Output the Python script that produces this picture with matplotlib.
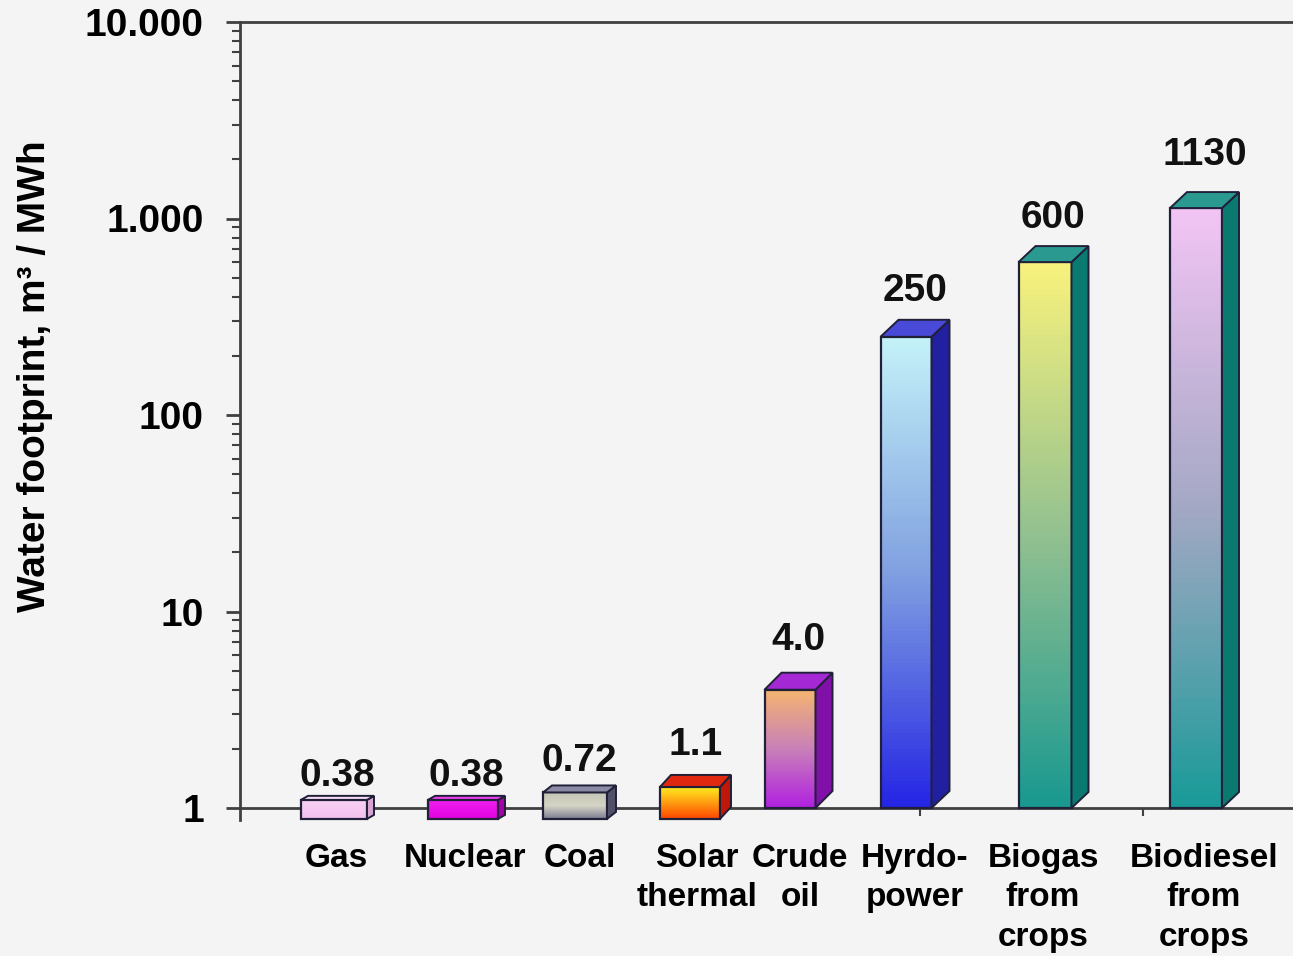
import matplotlib.pyplot as plt
import numpy as np
from matplotlib.colors import LinearSegmentedColormap
from matplotlib.patches import Polygon, Rectangle

plt.rcParams["font.family"] = ["Liberation Sans", "DejaVu Sans"]
plt.rcParams["font.weight"] = "bold"

sources = ["Gas", "Nuclear", "Coal", "Solar\nthermal", "Crude\noil",
           "Hyrdo-\npower", "Biogas\nfrom\ncrops", "Biodiesel\nfrom\ncrops"]
footprint = [0.38, 0.38, 0.72, 1.1, 4.0, 250, 600, 1130]
value_text = ["0.38", "0.38", "0.72", "1.1", "4.0", "250", "600", "1130"]
# the small ones are only drawn as little boxes sitting on the axis line
stub_top = [1.1, 1.1, 1.2, 1.28]
stub_base = 0.88
drawn_top = stub_top + footprint[4:]
drawn_base = [stub_base] * 4 + [1] * 4
y_ticks = [1, 10, 100, 1000, 10000]
y_tick_text = ["1", "10", "100", "1.000", "10.000"]

# layout (x in units of 100 px from the left spine)
x_pos = [0.94, 2.23, 3.35, 4.50, 5.50, 6.66, 8.05, 9.56]
widths = [0.66, 0.70, 0.64, 0.60, 0.51, 0.51, 0.53, 0.52]
label_x = [0.96, 2.25, 3.40, 4.57, 5.60, 6.75, 8.03, 9.64]
depth_x = [7, 7, 9, 11, 17, 18, 17, 17]   # pixels
depth_y = [4, 4, 7, 12, 17, 17, 16, 16]
label_gap = [2, 2, 6, 12, 15, 11, 10, 19]

# front gradient (top -> bottom), side colour, top colour
front = [
    ["#f8d0f4", "#f2c0ee"],
    ["#f020f0", "#e000e0"],
    ["#c4c4b4", "#d4d4c4", "#7c7c94"],
    ["#ffec20", "#ff9a10", "#ff4400"],
    ["#f4b470", "#c880b8", "#b020e0"],
    ["#c4f2f8", "#80a0e0", "#2424e4"],
    ["#f8f27c", "#92c090", "#189890"],
    ["#f2c4f4", "#a4a8c4", "#189a98"],
]
side = ["#d8a4d2", "#a800a8", "#505068", "#c01808", "#8010a8", "#2020a0", "#0a7a70", "#0a7a70"]
top = ["#f8dcf6", "#f040f0", "#8a8aa4", "#e02810", "#a428d4", "#4a4ad8", "#2a9a90", "#2a9a90"]
edge = "#202038"
bg = "#f4f4f4"

fig = plt.figure(figsize=(12.93, 9.56), dpi=100, facecolor=bg)
ax = fig.add_axes([240 / 1293, 148 / 956, 1053 / 1293, 786 / 956], facecolor=bg)
ax.set_yscale("log")
ax.set_xlim(0, 10.53)
ax.set_ylim(1, 10000)
ax.set_autoscale_on(False)

to_disp = ax.transData
to_data = ax.transData.inverted()

n_strips = 120
for i in range(len(sources)):
    x0 = x_pos[i] - widths[i] / 2
    x1 = x_pos[i] + widths[i] / 2
    yb, yt = drawn_base[i], drawn_top[i]
    dx, dy = depth_x[i], depth_y[i]

    (px0, pyb), (px1, pyt) = to_disp.transform([(x0, yb), (x1, yt)])

    # gradient even in screen space, not in log space
    cmap = LinearSegmentedColormap.from_list(f"c{i}", front[i][::-1])
    levels = np.linspace(pyb, pyt, n_strips + 1)
    ys = to_data.transform(np.column_stack([np.full_like(levels, px0), levels]))[:, 1]
    for k in range(n_strips):
        ax.add_patch(Rectangle((x0, ys[k]), x1 - x0, ys[k + 1] - ys[k],
                               facecolor=cmap((k + 0.5) / n_strips), edgecolor="none",
                               lw=0, zorder=3, clip_on=False, antialiased=False))
    ax.add_patch(Rectangle((x0, yb), x1 - x0, yt - yb, facecolor="none",
                           edgecolor=edge, lw=1.6, zorder=4, clip_on=False))

    side_pts = to_data.transform([(px1, pyb), (px1 + dx, pyb + dy),
                                  (px1 + dx, pyt + dy), (px1, pyt)])
    top_pts = to_data.transform([(px0, pyt), (px0 + dx, pyt + dy),
                                 (px1 + dx, pyt + dy), (px1, pyt)])
    ax.add_patch(Polygon(side_pts, closed=True, facecolor=side[i], edgecolor=edge,
                         lw=1.4, zorder=4, clip_on=False))
    ax.add_patch(Polygon(top_pts, closed=True, facecolor=top[i], edgecolor=edge,
                         lw=1.4, zorder=4, clip_on=False))

    ax.annotate(value_text[i], (x_pos[i], yt), xytext=(dx / 2, dy + label_gap[i]),
                textcoords="offset pixels", ha="center", va="bottom",
                fontsize=28, fontweight="bold", color="#111111")

ax.spines["right"].set_visible(False)
for s in ["left", "top", "bottom"]:
    ax.spines[s].set_linewidth(2)
    ax.spines[s].set_color("#404040")
ax.spines["bottom"].set_zorder(2)
ax.spines["left"].set_bounds(0.87, 10000)

ax.set_yticks(y_ticks, y_tick_text)
ax.yaxis.set_minor_formatter(plt.NullFormatter())
ax.tick_params(axis="y", which="major", length=10, width=2, pad=16,
               labelsize=28, color="#404040")
ax.tick_params(axis="y", which="minor", length=6, width=1.5, color="#404040")

ax.set_xticks(label_x, sources)
ax.set_xticks([6.80, 9.03], minor=True)
ax.tick_params(axis="x", which="major", length=0, pad=25, labelsize=24)
ax.tick_params(axis="x", which="minor", length=6, width=1.5, color="#404040")
for lab in ax.get_xticklabels():
    lab.set_linespacing(1.35)
    lab.set_fontweight("bold")
for lab in ax.get_yticklabels():
    lab.set_fontweight("bold")

fig.text(35 / 1293, 1 - 376 / 956, "Water footprint, m³ / MWh", rotation=90,
         ha="center", va="center", fontsize=28, fontweight="bold")

fig.savefig("out.png", dpi=100, facecolor=bg)
